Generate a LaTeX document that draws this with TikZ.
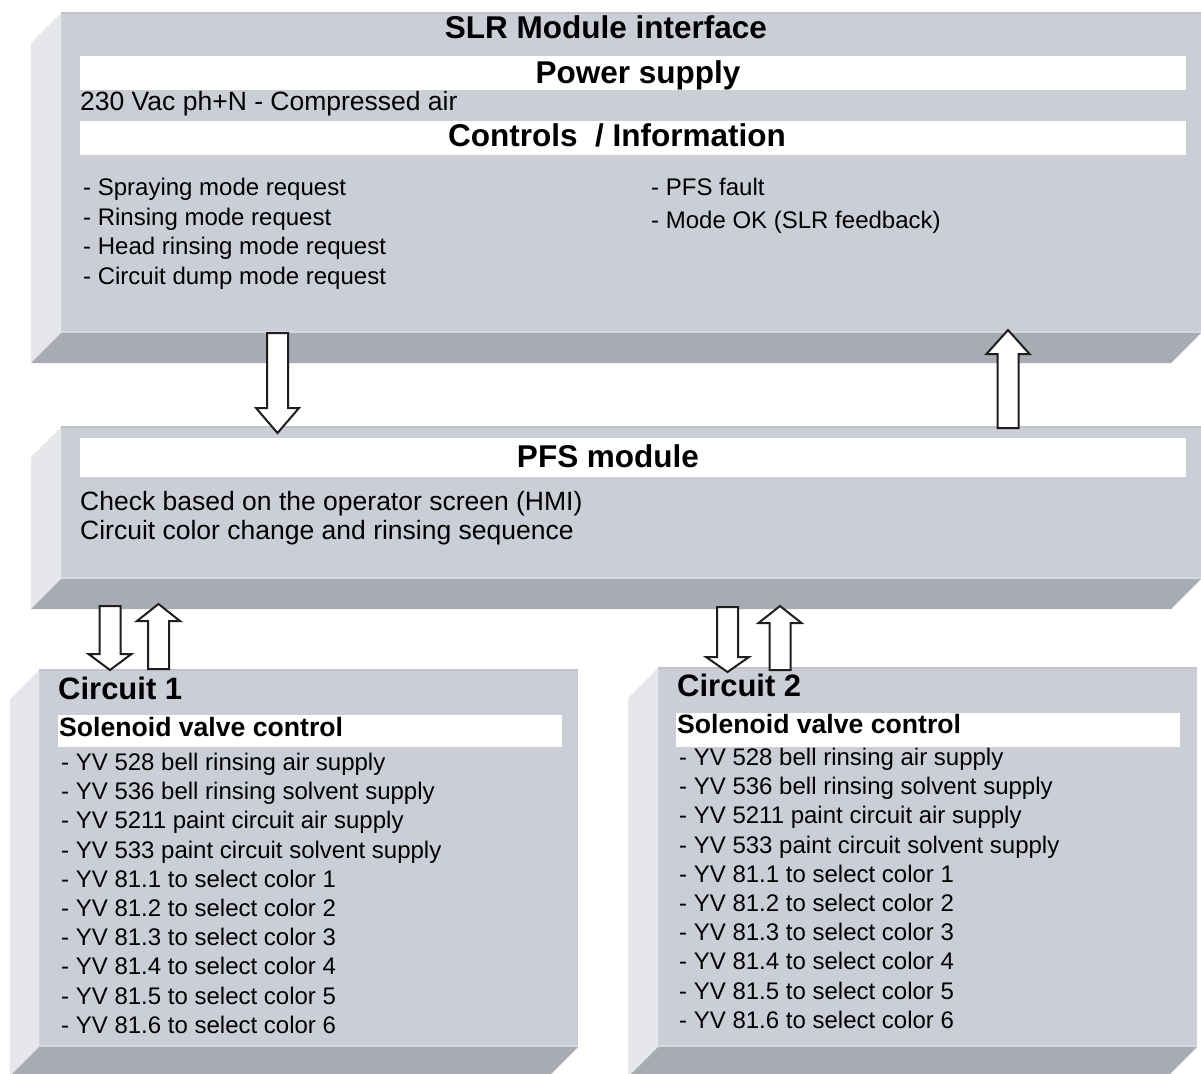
\documentclass[tikz,border=0pt]{standalone}
\usepackage{fontspec}
\setmainfont{Liberation Sans}
\usetikzlibrary{calc}

\definecolor{facegray}{RGB}{203,206,214}
\definecolor{sidegray}{RGB}{230,231,235}
\definecolor{basegray}{RGB}{168,171,179}
\definecolor{rimgray}{RGB}{192,195,202}
\definecolor{lipgray}{RGB}{214,216,222}
\definecolor{inkgray}{RGB}{30,30,30}

\tikzset{
  face/.style={fill=facegray, draw=none, inner sep=0pt, outer sep=0pt, anchor=north west},
  side/.style={fill=sidegray},
  base/.style={fill=basegray},
  bar/.style={fill=white},
  hollow/.style={draw=inkgray, line width=2pt, fill=white, line join=miter},
  listtxt/.style={inner sep=0pt, anchor=base west, font=\fontsize{24}{28}\selectfont},
  bodytxt/.style={inner sep=0pt, anchor=base west, font=\fontsize{26.5}{30}\selectfont},
  headtxt/.style={inner sep=0pt, anchor=base, font=\fontsize{31.5}{36}\selectfont\bfseries},
  circtxt/.style={inner sep=0pt, anchor=base west, font=\fontsize{31}{35}\selectfont\bfseries},
  subtxt/.style={inner sep=0pt, anchor=base west, font=\fontsize{26.6}{30}\selectfont\bfseries},
}

% front face node plus left and bottom bevels
% #1 name, #2 x, #3 y, #4 width, #5 height, #6 bevel depth
\newcommand\bevelbox[6]{%
  \node[face, minimum width=#4pt, minimum height=#5pt] (#1) at (#2,#3) {};
  \fill[side] (#1.north west) -- ++(-#6,#6) -- ($(#1.south west)+(-#6,#6)$) -- (#1.south west) -- cycle;
  \fill[base] (#1.south west) -- ++(-#6,#6) -- ($(#1.south east)+(-#6,#6)$) -- (#1.south east) -- cycle;
  \draw[rimgray, line width=1.5pt] (#1.north west) -- (#1.north east);
  \draw[lipgray, line width=2pt] ($(#1.south west)+(0,-1)$) -- ($(#1.south east)+(0,-1)$);
}

% hollow vertical block arrow from #1 to #2, head length #3
\newcommand\blockarrow[3]{%
  \draw[hollow] let \p1=(#1), \p2=(#2), \n1={ifthenelse(\y2<\y1,1,-1)} in
    (\x1-10.5pt,\y1) -- (\x1-10.5pt,{\y2+\n1*#3pt}) -- (\x1-21.5pt,{\y2+\n1*#3pt})
    -- (\x2,\y2) -- (\x1+21.5pt,{\y2+\n1*#3pt}) -- (\x1+10.5pt,{\y2+\n1*#3pt})
    -- (\x1+10.5pt,\y1) -- cycle;
}

\begin{document}
\begin{tikzpicture}[x=1pt,y=-1pt]
\useasboundingbox[fill=white] (0,0) rectangle (1201,1073);

% ---------- SLR module interface ----------
\bevelbox{slr}{61}{13}{1140}{320}{30}
\fill[bar] (80,56) rectangle (1186,90);
\fill[bar] (80,121) rectangle (1186,155);
\node[headtxt] (slrtitle) at (606,39) {SLR Module interface};
\node[headtxt] (power) at (638,83) {Power supply};
\node[bodytxt] (supply) at (80,110.5) {230 Vac ph+N - Compressed air};
\node[headtxt] (controls) at (617,146) {Controls \ / Information};
\node[listtxt] (req1) at (83,195.5) {- Spraying mode request};
\node[listtxt] (req2) at (83,225) {- Rinsing mode request};
\node[listtxt] (req3) at (83,254.5) {- Head rinsing mode request};
\node[listtxt] (req4) at (83,284) {- Circuit dump mode request};
\node[listtxt] (info1) at (651,195.5) {- PFS fault};
\node[listtxt] (info2) at (651,228) {- Mode OK (SLR feedback)};

% ---------- PFS module ----------
\bevelbox{pfs}{61}{427}{1140}{152}{30}
\fill[bar] (80,438) rectangle (1186,477);
\node[headtxt] (pfstitle) at (608,467) {PFS module};
\node[bodytxt] (pfs1) at (80,510.5) {Check based on the operator screen (HMI)};
\node[bodytxt] (pfs2) at (80,539.5) {Circuit color change and rinsing sequence};

% ---------- Circuit 1 ----------
\bevelbox{ca}{39}{670}{539}{377}{29}
\fill[bar] (58,715) rectangle (562,747);
\node[circtxt] (catitle) at (58,699) {Circuit 1};
\node[subtxt] (casub) at (59,736) {Solenoid valve control};
\foreach \t [count=\i from 0] in {%
  - YV 528 bell rinsing air supply,
  - YV 536 bell rinsing solvent supply,
  - YV 5211 paint circuit air supply,
  - YV 533 paint circuit solvent supply,
  - YV 81.1 to select color 1,
  - YV 81.2 to select color 2,
  - YV 81.3 to select color 3,
  - YV 81.4 to select color 4,
  - YV 81.5 to select color 5,
  - YV 81.6 to select color 6}
  \node[listtxt] (ca\i) at (61,{770.5+29.2*\i}) {\t};

% ---------- Circuit 2 ----------
\bevelbox{cb}{658}{668}{539}{379}{30}
\fill[bar] (676,713) rectangle (1180,747);
\node[circtxt] (cbtitle) at (677,696) {Circuit 2};
\node[subtxt] (cbsub) at (677,733) {Solenoid valve control};
\foreach \t [count=\i from 0] in {%
  - YV 528 bell rinsing air supply,
  - YV 536 bell rinsing solvent supply,
  - YV 5211 paint circuit air supply,
  - YV 533 paint circuit solvent supply,
  - YV 81.1 to select color 1,
  - YV 81.2 to select color 2,
  - YV 81.3 to select color 3,
  - YV 81.4 to select color 4,
  - YV 81.5 to select color 5,
  - YV 81.6 to select color 6}
  \node[listtxt] (cb\i) at (679,{765.5+29.2*\i}) {\t};

% ---------- connectors ----------
\coordinate (slrout) at (277.5,333);
\coordinate (pfsin)  at (277.5,433);
\coordinate (pfsout) at (1008,428);
\coordinate (slrin)  at (1008,330);
\coordinate (cadown) at (110,606);
\coordinate (catip)  at (110,670);
\coordinate (caup)   at (158.5,669);
\coordinate (cafb)   at (158.5,604);
\coordinate (cbdown) at (727.5,607);
\coordinate (cbtip)  at (727.5,672);
\coordinate (cbup)   at (780,670);
\coordinate (cbfb)   at (780,606);

\blockarrow{slrout}{pfsin}{25}
\blockarrow{pfsout}{slrin}{24}
\blockarrow{cadown}{catip}{16}
\blockarrow{caup}{cafb}{17}
\blockarrow{cbdown}{cbtip}{15}
\blockarrow{cbup}{cbfb}{17}
\end{tikzpicture}
\end{document}
